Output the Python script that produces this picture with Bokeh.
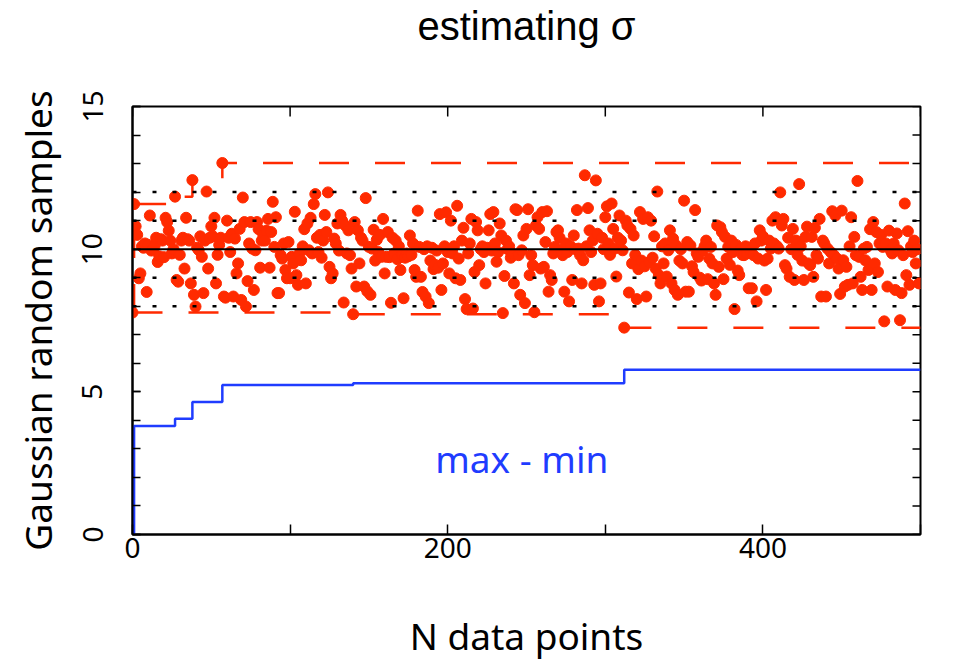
import numpy as np
from bokeh.plotting import figure
from bokeh.models import Range1d, FixedTicker, Span, Label, LinearAxis
from bokeh.embed import file_html
from bokeh.resources import INLINE

# ---- data ----
samples = [
    7.78, 11.58, 10.8, 10.5, 8.98, 9.15, 10.1, 10.05, 10.2, 8.5,
    10.15, 11.18, 9.95, 10.0, 10.1, 10.4, 9.55, 9.75, 10.35, 10.3,
    9.72, 11.1, 10.95, 10.65, 10.3, 9.85, 10.0, 11.84, 8.92, 8.86,
    9.8, 10.3, 10.4, 9.32, 11.1, 10.35, 10.3, 8.8, 12.42, 8.4,
    7.99, 10.05, 9.97, 10.45, 9.73, 8.46, 10.3, 12.02, 9.32, 10.4,
    10.8, 10.45, 11.1, 8.8, 9.8, 10.15, 10.4, 13.02, 8.34, 8.3,
    11.0, 10.4, 9.9, 10.54, 8.34, 10.37, 9.15, 9.5, 10.71, 8.22,
    11.81, 10.95, 7.99, 8.88, 10.2, 10.95, 10.02, 8.57, 9.96, 10.95,
    10.7, 9.35, 10.3, 10.48, 10.3, 10.65, 11.06, 9.35, 10.6, 11.66,
    10.08, 11.12, 8.46, 8.46, 9.79, 9.67, 10.2, 9.27, 8.98, 10.25,
    8.98, 9.73, 9.5, 11.31, 9.09, 8.75, 9.85, 9.61, 10.1, 10.7,
    8.8, 10.9, 9.96, 11.1, 9.85, 11.58, 11.93, 10.4, 9.9, 10.5,
    9.7, 10.3, 11.2, 10.6, 11.99, 9.38, 8.98, 9.15, 10.37, 10.2,
    10.9, 9.95, 11.2, 11.0, 8.13, 10.83, 9.85, 10.66, 9.79, 9.32,
    7.72, 10.95, 8.69, 10.66, 9.5, 10.4, 10.3, 8.69, 11.79, 8.52,
    10.08, 8.4, 10.02, 10.68, 9.6, 10.33, 9.9, 10.5, 9.73, 11.06,
    9.15, 9.73, 10.6, 9.72, 8.12, 10.4, 9.85, 10.3, 9.65, 10.1,
    9.27, 9.8, 8.28, 9.7, 9.85, 9.75, 10.48, 9.8, 10.2, 9.27,
    9.03, 11.35, 10.08, 9.03, 8.5, 10.0, 8.34, 10.1, 8.11, 9.6,
    10.05, 9.3, 9.45, 9.95, 9.35, 11.23, 8.57, 9.5, 10.1, 11.29,
    9.9, 9.15, 11.0, 9.85, 10.1, 8.98, 11.52, 9.67, 8.92, 10.3,
    10.75, 8.25, 7.9, 9.85, 10.2, 11.06, 7.92, 9.2, 10.95, 10.66,
    9.44, 10.0, 10.1, 9.9, 8.8, 10.05, 10.66, 11.23, 9.95, 11.3,
    10.2, 9.56, 9.9, 10.9, 10.48, 7.76, 9.06, 10.3, 10.0, 10.1,
    9.7, 9.85, 8.8, 11.4, 11.37, 9.79, 8.4, 9.96, 10.48, 8.11,
    10.71, 11.4, 9.09, 9.79, 9.44, 7.79, 10.83, 11.12, 10.71, 9.32,
    11.3, 9.38, 10.25, 11.33, 8.51, 9.09, 8.92, 9.85, 10.08, 10.6,
    10.66, 10.4, 9.96, 9.79, 8.51, 10.2, 9.9, 8.17, 10.1, 8.92,
    10.48, 10.0, 11.37, 10.02, 9.79, 8.8, 9.61, 12.59, 10.1, 11.44,
    10.66, 9.9, 10.3, 8.75, 12.41, 10.54, 8.17, 8.8, 10.4, 10.0,
    11.12, 11.5, 10.2, 9.8, 11.6, 10.71, 10.02, 9.04, 10.4, 11.18,
    10.3, 9.96, 7.25, 11.0, 10.83, 8.48, 10.71, 9.5, 10.48, 9.8,
    8.25, 9.3, 11.3, 9.6, 11.06, 9.4, 8.34, 11.12, 9.55, 11.0,
    9.7, 10.45, 9.32, 12.02, 9.09, 8.8, 10.1, 9.5, 10.2, 9.04,
    9.96, 10.66, 8.8, 10.37, 8.57, 10.13, 8.4, 9.6, 10.0, 9.5,
    11.7, 8.51, 10.25, 8.51, 10.13, 9.4, 9.2, 11.37, 9.85, 9.73,
    9.0, 8.9, 9.96, 10.1, 10.3, 8.95, 9.67, 10.08, 9.5, 8.8,
    8.4, 10.83, 9.38, 10.77, 10.6, 8.95, 10.43, 9.67, 10.08, 9.45,
    10.3, 9.9, 7.9, 10.15, 9.25, 9.09, 10.0, 9.8, 9.79, 10.1,
    9.85, 8.63, 9.95, 8.63, 9.79, 10.2, 8.17, 9.67, 10.66, 10.3,
    10.45, 9.6, 8.57, 9.67, 10.3, 10.02, 11.0, 10.2, 11.12, 10.1,
    10.02, 11.99, 10.83, 11.06, 9.44, 9.32, 10.4, 9.03, 10.0, 10.71,
    8.92, 10.3, 9.8, 12.28, 10.1, 9.6, 8.92, 10.43, 10.79, 9.5,
    9.44, 10.43, 9.03, 10.75, 9.79, 9.67, 11.06, 8.34, 10.3, 10.2,
    8.34, 10.02, 9.5, 9.9, 11.33, 9.79, 11.18, 9.67, 9.32, 8.43,
    11.35, 9.61, 8.69, 9.38, 8.75, 10.1, 11.12, 8.8, 10.43, 9.79,
    12.39, 9.73, 9.03, 8.57, 10.02, 9.61, 10.08, 9.27, 10.7, 8.57,
    10.95, 9.5, 10.6, 9.2, 10.2, 10.5, 10.08, 7.47, 10.2, 8.69,
    10.65, 9.96, 9.85, 10.2, 8.57, 10.55, 9.96, 7.51, 8.46, 9.79,
    11.6, 9.09, 10.63, 8.75, 10.1, 9.9, 10.3, 9.5, 10.0, 8.8,
]
n_points = list(range(len(samples)))

mean_level = 10
dotted_levels = [8, 9, 11, 12]
x_limits = (0, 500)
y_limits = (0, 15)
x_ticks = [0, 200, 400]
x_minor_ticks = [100, 300, 500]
y_ticks = [0, 5, 10, 15]
y_minor_ticks = list(range(0, 16))
title_text = "estimating \u03c3"
spread_label = "max - min"
spread_label_pos = (247, 2.67)

running_max = np.maximum.accumulate(samples)
running_min = np.minimum.accumulate(samples)
spread = running_max - running_min
# extend the step curves to the right edge of the axis
x_step = n_points + [x_limits[1]]
max_step = list(running_max) + [running_max[-1]]
min_step = list(running_min) + [running_min[-1]]
spread_step = list(spread) + [spread[-1]]

# ---- styling ----
FONT = "Noto Sans"
TITLE_FONT = "Liberation Sans"
RED = "#ff2a00"
BLUE = "#1f3cff"
W, H = 974, 663
BORDER_L, BORDER_R, BORDER_T, BORDER_B = 132, 54, 105, 126
TICK_X_PX, TICK_Y_PX = 10, 8

p = figure(width=W, height=H,
           x_range=Range1d(*x_limits), y_range=Range1d(*y_limits),
           output_backend="svg", toolbar_location=None,
           min_border_left=BORDER_L, min_border_right=BORDER_R,
           min_border_top=BORDER_T, min_border_bottom=BORDER_B)

p.xgrid.visible = False
p.ygrid.visible = False
p.outline_line_color = "black"
p.outline_line_width = 2
p.background_fill_color = "white"
p.border_fill_color = "white"

xa = p.xaxis[0]
xa.ticker = FixedTicker(ticks=x_ticks, minor_ticks=x_minor_ticks)
xa.axis_label = "N data points"
ya = p.yaxis[0]
ya.ticker = FixedTicker(ticks=y_ticks, minor_ticks=y_minor_ticks)
ya.axis_label = "Gaussian random samples"
ya.major_label_orientation = "vertical"

for ax, tin in ((xa, TICK_X_PX), (ya, TICK_Y_PX)):
    ax.major_tick_in = tin
    ax.major_tick_out = 0
    ax.minor_tick_in = tin
    ax.minor_tick_out = 0
    ax.major_tick_line_color = "black"
    ax.minor_tick_line_color = "black"
    ax.major_tick_line_width = 1.5
    ax.minor_tick_line_width = 1.5
    ax.axis_line_color = "black"
    ax.axis_line_width = 2
    ax.major_label_text_font = FONT
    ax.major_label_text_font_size = "28px"
    ax.major_label_text_color = "black"
    ax.axis_label_text_font = FONT
    ax.axis_label_text_font_size = "37px"
    ax.axis_label_text_font_style = "normal"
    ax.axis_label_text_color = "black"

ya.axis_label_text_line_height = 1.0
xa.major_label_text_line_height = 1.0
xa.axis_label_text_line_height = 0.7
xa.major_label_standoff = 3
xa.axis_label_standoff = 49
ya.major_label_standoff = 30
ya.axis_label_standoff = 17

# title: drawn as the label of a tick-less axis above the frame
title_axis = LinearAxis(ticker=FixedTicker(ticks=[], minor_ticks=[]),
                        axis_label=title_text)
title_axis.axis_line_color = None
title_axis.major_tick_line_color = None
title_axis.minor_tick_line_color = None
title_axis.major_tick_out = 0
title_axis.major_tick_in = 0
title_axis.minor_tick_out = 0
title_axis.minor_tick_in = 0
title_axis.major_label_standoff = 0
title_axis.axis_label_standoff = 59
title_axis.axis_label_text_font = TITLE_FONT
title_axis.axis_label_text_font_size = "40px"
title_axis.axis_label_text_font_style = "normal"
title_axis.axis_label_text_color = "black"
title_axis.axis_label_text_line_height = 1.0
p.add_layout(title_axis, "above")

# mirrored ticks on the top and right edges (inward)
frame_w = W - BORDER_L - BORDER_R
frame_h = H - BORDER_T - BORDER_B
tick_len_y = TICK_X_PX * (y_limits[1] - y_limits[0]) / frame_h
tick_len_x = TICK_Y_PX * (x_limits[1] - x_limits[0]) / frame_w
top_ticks = x_ticks + x_minor_ticks
p.segment(x0=top_ticks, y0=[y_limits[1]] * len(top_ticks),
          x1=top_ticks, y1=[y_limits[1] - tick_len_y] * len(top_ticks),
          line_color="black", line_width=1.5)
p.segment(x0=[x_limits[1]] * len(y_minor_ticks), y0=y_minor_ticks,
          x1=[x_limits[1] - tick_len_x] * len(y_minor_ticks), y1=y_minor_ticks,
          line_color="black", line_width=1.5)

# reference levels
p.add_layout(Span(location=mean_level, dimension="width",
                  line_color="black", line_width=2))
for lvl in dotted_levels:
    p.add_layout(Span(location=lvl, dimension="width", line_color="black",
                      line_width=2.5, line_dash="4 16"))

# running max / min
p.step(x_step, max_step, mode="after", line_color=RED,
       line_width=2.5, line_dash="30 26")
p.step(x_step, min_step, mode="after", line_color=RED,
       line_width=2.5, line_dash="30 26")

# samples
p.scatter(n_points, samples, size=11, fill_color=RED, line_color=RED)

# spread
p.step(x_step, spread_step, mode="after", line_color=BLUE, line_width=2.5)

p.add_layout(Label(x=spread_label_pos[0], y=spread_label_pos[1],
                   text=spread_label, text_color=BLUE, text_font=FONT,
                   text_font_size="37px", text_align="center",
                   text_baseline="middle"))

open("out.html", "w").write(file_html(p, INLINE))
